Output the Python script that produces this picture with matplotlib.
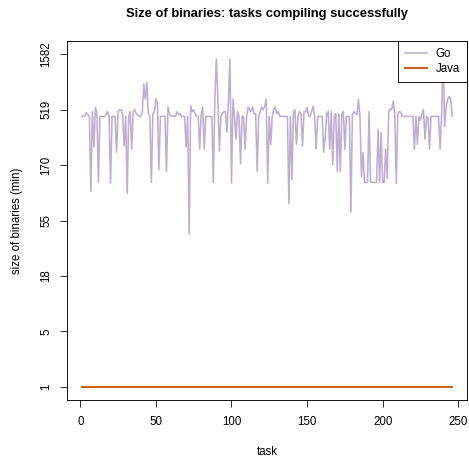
import numpy as np
import matplotlib
matplotlib.use("Agg")
import matplotlib.pyplot as plt

plt.rcParams['font.family'] = ['Liberation Sans', 'DejaVu Sans']

# binary sizes per task
go_size = [
    450, 460, 455, 490, 470, 455, 100, 500, 245, 547,
    480, 120, 454, 454, 454, 454, 470, 500, 454, 118,
    454, 454, 454, 220, 500, 519, 519, 470, 250, 454,
    96, 454, 500, 235, 500, 519, 480, 470, 454, 454,
    500, 868, 640, 900, 480, 454, 120, 480, 500, 641,
    600, 155, 454, 454, 455, 454, 150, 547, 480, 454,
    460, 454, 454, 500, 470, 480, 454, 454, 454, 245,
    454, 42, 560, 500, 519, 480, 454, 454, 235, 480,
    547, 235, 454, 454, 454, 454, 454, 120, 641, 1430,
    641, 225, 454, 480, 500, 500, 330, 641, 1430, 118,
    641, 454, 287, 500, 454, 175, 454, 454, 235, 454,
    547, 519, 500, 547, 480, 480, 150, 454, 500, 547,
    519, 560, 641, 118, 454, 259, 454, 530, 547, 480,
    500, 454, 454, 454, 454, 454, 454, 78, 454, 127,
    500, 519, 259, 454, 500, 480, 250, 500, 500, 547,
    454, 454, 500, 560, 454, 235, 454, 454, 454, 454,
    220, 297, 480, 500, 235, 500, 172, 454, 480, 150,
    480, 150, 480, 500, 235, 454, 454, 454, 66, 470,
    500, 480, 470, 641, 454, 136, 220, 120, 120, 120,
    500, 120, 120, 120, 120, 120, 351, 120, 328, 120,
    120, 235, 130, 500, 530, 519, 620, 480, 118, 480,
    500, 490, 454, 454, 454, 454, 454, 454, 454, 454,
    235, 454, 259, 454, 420, 480, 519, 287, 454, 440,
    235, 454, 454, 454, 454, 454, 454, 235, 454, 1582,
    371, 560, 641, 678, 641, 454,
]
java_size = [1] * len(go_size)
tasks = np.arange(1, len(go_size) + 1)

ytick_labels = [1, 5, 18, 55, 170, 519, 1582]
xticks = [0, 50, 100, 150, 200, 250]

go_col = '#beaed4'
java_col = '#d06020'

fig = plt.figure(figsize=(469 / 72, 462 / 72), dpi=72)
ax = fig.add_axes([67 / 469, 1 - 400 / 462, 400 / 469, 359 / 462])

# y axis is log(size + 1)
ax.plot(tasks, np.log1p(go_size), color=go_col, lw=1.6, label='Go')
ax.plot(tasks, np.log1p(java_size), color=java_col, lw=2, label='Java')

lo, hi = np.log1p(1), np.log1p(1582)
pad = 0.04 * (hi - lo)
ax.set_ylim(lo - pad, hi + pad)
ax.set_xlim(1 - 0.04 * 245, 246 + 0.04 * 245)

ax.set_yticks(np.linspace(lo, hi, 7))
ax.set_yticklabels([str(v) for v in ytick_labels], rotation=90, va='center')
ax.set_xticks(xticks)
ax.tick_params(length=7, width=0.8, labelsize=11.5, pad=9)
ax.tick_params(axis='y', pad=8)

ax.set_xlabel('task', fontsize=11.5, labelpad=18)
ax.set_ylabel('size of binaries (min)', fontsize=11.5, labelpad=17)
ax.set_title('Size of binaries: tasks compiling successfully',
             fontsize=13, fontweight='bold', pad=24)

for s in ax.spines.values():
    s.set_linewidth(0.9)

leg = ax.legend(loc='upper right', borderaxespad=0, fancybox=False,
                edgecolor='black', framealpha=1, fontsize=11.5,
                handlelength=1.9, handletextpad=0.8, borderpad=0.6,
                labelspacing=0.25)
leg.get_frame().set_linewidth(0.9)
leg.set_zorder(5)

fig.savefig('out.png', dpi=72)
